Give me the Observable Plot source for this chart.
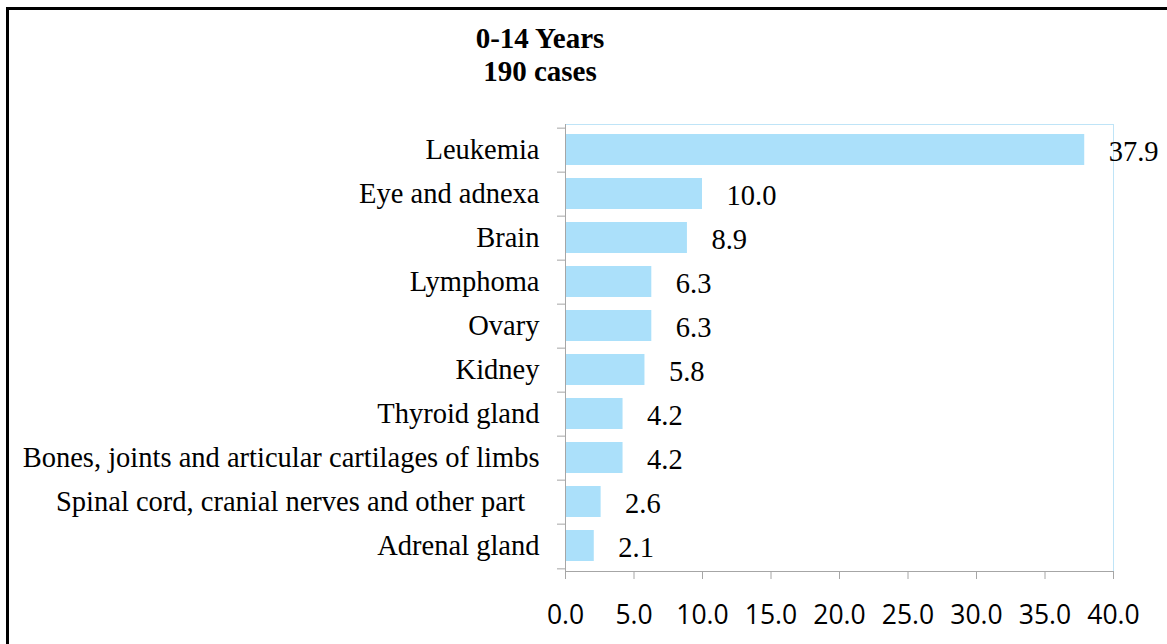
<!DOCTYPE html>
<html>
<head>
<meta charset="utf-8">
<script src="https://cdn.jsdelivr.net/npm/d3@7"></script>
<script src="https://cdn.jsdelivr.net/npm/@observablehq/plot@0.6"></script>
<style>
  html, body { margin: 0; padding: 0; background: #fff; }
  #wrap { position: relative; width: 1167px; height: 644px; overflow: hidden; }
  #border { position: absolute; left: 6px; top: 7px; right: 0; bottom: 0; border-top: 3px solid #000; border-left: 3px solid #000; }
  #title { position: absolute; left: 340px; width: 400px; top: 22px; text-align: center;
    font-family: "Liberation Serif", "Times New Roman", serif; font-weight: bold; font-size: 29px; line-height: 33px; color: #000; }
  #chart { position: absolute; left: 0; top: 0; }
  #chart svg text { white-space: pre; }
</style>
</head>
<body>
<div id="wrap">
  <div id="border"></div>
  <div id="chart"></div>
  <div id="title">0-14 Years<br>190 cases</div>
</div>
<script>
const categories = [
  "Leukemia",
  "Eye and adnexa",
  "Brain",
  "Lymphoma",
  "Ovary",
  "Kidney",
  "Thyroid gland",
  "Bones, joints and articular cartilages of limbs",
  "Spinal cord, cranial nerves and other part  ",
  "Adrenal gland"
];
const values = [37.9, 10.0, 8.9, 6.3, 6.3, 5.8, 4.2, 4.2, 2.6, 2.1];
const xTicks = [0, 5, 10, 15, 20, 25, 30, 35, 40];

const data = categories.map((c, i) => ({category: c, value: values[i]}));

const W = 1167, H = 644, mt = 124, mb = 73, ml = 565, mr = 54;
const step = (H - mt - mb) / categories.length;
const serif = "Liberation Serif, Times New Roman, serif";
const gray = "#a6a6a6";

const chart = Plot.plot({
  width: W, height: H,
  marginTop: mt, marginBottom: mb, marginLeft: ml, marginRight: mr,
  style: {background: "transparent", overflow: "visible", color: "#000"},
  x: {domain: [0, 40]},
  y: {domain: categories, padding: 0},
  marks: [
    Plot.frame({stroke: "#bfe4f7"}),
    Plot.barX(data, {x: "value", y: "category", fill: "#abe0fa", insetTop: 6, insetBottom: 7}),
    Plot.ruleX([0], {stroke: gray}),
    Plot.frame({anchor: "bottom", stroke: gray}),
    Plot.axisY({text: null, tickSize: 8, stroke: gray, dy: -step / 2, label: null}),
    Plot.axisY({ticks: [categories[categories.length - 1]], text: null, tickSize: 8, stroke: gray, dy: step / 2, label: null}),
    Plot.axisY({tickSize: 0, tickPadding: 26, fontSize: 28.5, fontFamily: serif, fill: "#000", dy: -1, label: null}),
    Plot.axisX({ticks: xTicks, text: null, tickSize: 8, stroke: gray, label: null}),
    Plot.axisX({ticks: xTicks, tickSize: 0, tickPadding: 34, tickFormat: d3.format(".1f"),
      fontSize: 26.5, fontFamily: "Open Sans, sans-serif", fill: "#000", label: null}),
    Plot.text(data, {x: "value", y: "category", text: d => d.value.toFixed(1), textAnchor: "start",
      dx: 24, dy: 1, fontSize: 28.5, fontFamily: serif, fill: "#000"})
  ]
});
document.getElementById("chart").appendChild(chart);
</script>
</body>
</html>
